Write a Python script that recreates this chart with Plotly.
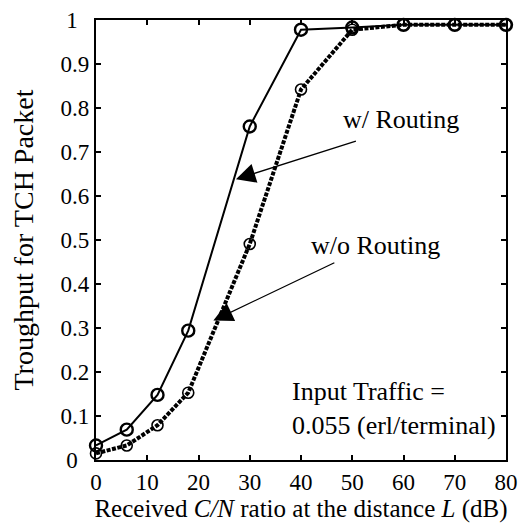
import plotly.graph_objects as go

x_vals = [0, 6, 12, 18, 30, 40, 50, 60, 70, 80]
with_routing = [0.033, 0.069, 0.148, 0.294, 0.758, 0.978, 0.983, 0.989, 0.989, 0.989]
without_routing = [0.015, 0.033, 0.079, 0.153, 0.491, 0.842, 0.978, 0.989, 0.989, 0.989]
x_ticks = [0, 10, 20, 30, 40, 50, 60, 70, 80]
y_ticks = [0, 0.1, 0.2, 0.3, 0.4, 0.5, 0.6, 0.7, 0.8, 0.9, 1]
y_tick_labels = ["0\u2007", "0.1", "0.2", "0.3", "0.4", "0.5", "0.6", "0.7", "0.8", "0.9", "1\u2007"]

FONT = "Liberation Serif, Times New Roman, serif"

fig = go.Figure()
fig.add_trace(go.Scatter(
    x=x_vals, y=without_routing, mode="lines+markers",
    line=dict(color="black", width=4, dash="4px,1.5px"),
    marker=dict(symbol="circle-open", size=11, color="black", line=dict(width=1.6)),
    cliponaxis=False, showlegend=False))
fig.add_trace(go.Scatter(
    x=x_vals, y=with_routing, mode="lines+markers",
    line=dict(color="black", width=2),
    marker=dict(symbol="circle-open", size=12, color="black", line=dict(width=2.4)),
    cliponaxis=False, showlegend=False))

axis_common = dict(showline=True, linecolor="black", linewidth=2.2, mirror="ticks",
                   ticks="inside", ticklen=5, tickwidth=1.5, tickcolor="black",
                   showgrid=False, zeroline=False, ticklabeloverflow="allow",
                   tickfont=dict(family=FONT, size=23, color="black"))

fig.update_xaxes(range=[0, 80], tickvals=x_ticks, **axis_common,
                 title=dict(text="Received <i>C/N</i> ratio at the distance <i>L</i> (dB)",
                            font=dict(family=FONT, size=25, color="black"), standoff=6))
fig.update_yaxes(range=[0, 1], tickvals=y_ticks, ticktext=y_tick_labels, **axis_common,
                 title=dict(text="Troughput for TCH Packet",
                            font=dict(family=FONT, size=28, color="black"), standoff=19))

fig.add_annotation(x=27.3, y=0.638, ax=51, ay=0.726, axref="x", ayref="y",
                   xref="x", yref="y", showarrow=True, arrowhead=2, arrowsize=3,
                   arrowwidth=1.3, arrowcolor="black", text="")
fig.add_annotation(x=22.9, y=0.317, ax=46.8, ay=0.45, axref="x", ayref="y",
                   xref="x", yref="y", showarrow=True, arrowhead=2, arrowsize=3,
                   arrowwidth=1.3, arrowcolor="black", text="")
fig.add_annotation(x=59.5, y=0.774, xref="x", yref="y", text="w/ Routing", showarrow=False,
                   font=dict(family=FONT, size=26, color="black"))
fig.add_annotation(x=54.6, y=0.487, xref="x", yref="y", text="w/o Routing", showarrow=False,
                   font=dict(family=FONT, size=26, color="black"))
fig.add_annotation(x=37.8, y=0.117, xref="x", yref="y", xanchor="left", align="left",
                   text="Input Traffic =<br>0.055 (erl/terminal)", showarrow=False,
                   font=dict(family=FONT, size=26, color="black"))

fig.update_layout(width=523, height=523, margin=dict(l=96, r=5, t=20, b=61),
                  plot_bgcolor="white", paper_bgcolor="white")

fig.write_html("out.html", config={"displayModeBar": False},
               post_script="document.body.style.margin='0px';")
